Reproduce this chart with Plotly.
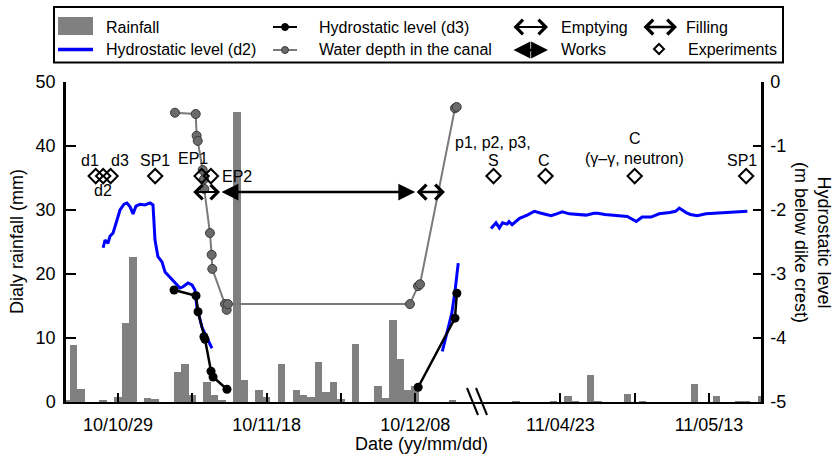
import plotly.graph_objects as go

# ---------------- data ----------------
# Daily rainfall (mm)
rain_dates_a = ["2010-10-22", "2010-10-23", "2010-10-24", "2010-10-27", "2010-10-29",
                "2010-10-30", "2010-10-31", "2010-11-02", "2010-11-03", "2010-11-06",
                "2010-11-07", "2010-11-08", "2010-11-10", "2010-11-11", "2010-11-12",
                "2010-11-14", "2010-11-15", "2010-11-17", "2010-11-18", "2010-11-20",
                "2010-11-22", "2010-11-23", "2010-11-24", "2010-11-25", "2010-11-26",
                "2010-11-27", "2010-11-28", "2010-11-30", "2010-12-03", "2010-12-04",
                "2010-12-05", "2010-12-06", "2010-12-07", "2010-12-08", "2010-12-13"]
rain_a = [0.3, 8.9, 2.0, 0.2, 0.8, 12.3, 22.7, 0.6, 0.4, 4.7,
          5.9, 1.1, 3.1, 1.1, 0.3, 45.3, 3.4, 1.8, 0.8, 5.9,
          1.8, 1.1, 0.8, 6.2, 1.6, 3.2, 0.5, 9.1, 2.5, 0.6,
          12.8, 6.7, 1.8, 2.5, 0.2]
rain_dates_b = ["2011-04-17", "2011-04-22", "2011-04-24", "2011-04-25", "2011-04-27",
                "2011-04-28", "2011-05-02", "2011-05-04", "2011-05-11", "2011-05-14",
                "2011-05-17", "2011-05-18", "2011-05-20"]
rain_b = [0.15, 0.15, 1.0, 0.15, 4.2, 0.15, 1.2, 0.15, 2.8, 1.0, 0.15, 0.15, 1.0]

# Hydrostatic level d2 (m below dike crest)
d2_dates_a = ["2010-10-27 00:00", "2010-10-27 06:00", "2010-10-27 15:30", "2010-10-27 22:00",
              "2010-10-28 08:00", "2010-10-28 17:30", "2010-10-29 06:30", "2010-10-29 19:30",
              "2010-10-30 05:00", "2010-10-30 15:00", "2010-10-31 00:30", "2010-10-31 10:00",
              "2010-10-31 23:00", "2010-11-01 15:00", "2010-11-02 07:30", "2010-11-02 17:00",
              "2010-11-02 23:30", "2010-11-03 09:00", "2010-11-03 22:00", "2010-11-04 08:00",
              "2010-11-05 00:00", "2010-11-05 16:00", "2010-11-06 08:00", "2010-11-06 18:00",
              "2010-11-07 10:00", "2010-11-07 23:00", "2010-11-08 08:30", "2010-11-08 15:00",
              "2010-11-09 07:00", "2010-11-09 23:30", "2010-11-10 15:30",
              None,
              "2010-12-11 15:30", "2010-12-12 06:00", "2010-12-12 22:00", "2010-12-13 08:30",
              "2010-12-13 14:00", "2010-12-13 19:00"]
d2_a = [-2.59, -2.47, -2.52, -2.41, -2.36, -2.19, -2.00, -1.91, -1.89, -1.95, -2.06,
        -1.94, -1.91, -1.92, -1.89, -1.92, -2.47, -2.73, -2.81, -2.97, -3.05, -3.14,
        -3.22, -3.20, -3.14, -3.17, -3.25, -3.52, -3.83, -4.00, -4.16,
        None,
        -4.21, -3.93, -3.62, -3.27, -3.02, -2.83]
d2_dates_b = ["2011-04-13 16:00", "2011-04-14 08:00", "2011-04-14 19:00", "2011-04-15 05:00",
              "2011-04-15 20:00", "2011-04-16 02:00", "2011-04-16 12:00", "2011-04-17 12:00",
              "2011-04-18 13:00", "2011-04-19 12:00", "2011-04-20 10:00", "2011-04-21 18:00",
              "2011-04-22 12:00", "2011-04-23 06:00", "2011-04-24 05:00", "2011-04-25 12:00",
              "2011-04-26 11:00", "2011-04-27 12:00", "2011-04-28 00:00", "2011-04-29 00:00",
              "2011-04-30 00:00", "2011-05-01 00:00", "2011-05-02 00:00", "2011-05-03 05:00",
              "2011-05-04 00:00", "2011-05-05 05:00", "2011-05-06 07:00", "2011-05-07 17:00",
              "2011-05-08 12:00", "2011-05-09 00:00", "2011-05-09 22:00", "2011-05-10 12:00",
              "2011-05-11 10:00", "2011-05-12 14:00", "2011-05-14 10:00", "2011-05-16 02:00",
              "2011-05-17 00:00", "2011-05-18 04:00"]
d2_b = [-2.29, -2.20, -2.28, -2.20, -2.22, -2.18, -2.23, -2.13, -2.08, -2.02, -2.05,
        -2.09, -2.06, -2.03, -2.06, -2.07, -2.08, -2.05, -2.05, -2.07, -2.08, -2.08,
        -2.10, -2.18, -2.11, -2.11, -2.06, -2.04, -2.02, -1.97, -2.04, -2.07, -2.09,
        -2.06, -2.05, -2.04, -2.03, -2.02]

# Hydrostatic level d3
d3_dates = ["2010-11-05 13:00", "2010-11-08 12:00", "2010-11-08 18:30", "2010-11-09 13:30",
            "2010-11-09 17:00", "2010-11-10 12:30", "2010-11-10 19:00", "2010-11-12 16:00",
            None,
            "2010-12-08 09:30", "2010-12-13 08:30", "2010-12-13 14:30"]
d3 = [-3.25, -3.34, -3.59, -3.98, -4.02, -4.52, -4.61, -4.80, None, -4.77, -3.69, -3.30]

# Water depth in the canal
canal_dates = ["2010-11-05 16:00", "2010-11-08 11:00", "2010-11-08 14:00", "2010-11-08 17:30",
               "2010-11-09 09:30", "2010-11-09 13:30", "2010-11-09 14:30", "2010-11-10 09:00",
               "2010-11-10 14:30", "2010-11-10 16:30", "2010-11-12 09:30", "2010-11-12 15:00",
               "2010-11-12 19:00", "2010-12-07 07:00", "2010-12-08 09:00", "2010-12-08 15:30",
               "2010-12-13 08:30", "2010-12-13 14:00"]
canal = [-0.48, -0.50, -0.84, -0.92, -1.375, -1.52, -1.67, -2.36, -2.70, -2.92,
         -3.47, -3.56, -3.47, -3.47, -3.19, -3.16, -0.41, -0.39]

# Experiments
exp_dates_a = ["2010-10-26", "2010-10-27", "2010-10-28", "2010-11-03",
               "2010-11-09 06:00", "2010-11-10 12:00"]
exp_dates_b = ["2011-04-14", "2011-04-21", "2011-05-03", "2011-05-18"]
EXP_LEVEL = -1.47

# Periods (arrows)
emptying = ("2010-11-07 22:00", "2010-11-11 17:30")
works = ("2010-11-11 17:30", "2010-12-08 00:00")
filling = ("2010-12-08 00:00", "2010-12-12 00:00")
ARROW_LEVEL = -1.72

left_ticks = ["2010-10-29", "2010-11-08", "2010-11-18", "2010-11-28", "2010-12-08"]
left_ticktext = ["10/10/29", "", "10/11/18", "", "10/12/08"]
right_ticks = ["2011-04-23", "2011-05-03", "2011-05-13"]
right_ticktext = ["11/04/23", "", "11/05/13"]
y2_ticks = [0, -1, -2, -3, -4, -5]
y2_ticktext = ["0", "-1", "-2", "-3", "-4", "-5"]

# ---------------- figure ----------------
FONT = "Arial, Liberation Sans, sans-serif"
W, H = 835, 457
L, R, T, B = 66, 761, 82, 402
DAY_MS = 86400000
split = 55 / 93.54


def px(x):
    return (x - L) / (R - L)


def py(y):
    return (B - y) / (B - T)


fig = go.Figure()

GRAY_BAR = "#808080"
fig.add_trace(go.Bar(x=rain_dates_a, y=rain_a, width=DAY_MS, marker_color=GRAY_BAR,
                     marker_line_width=0, xaxis="x", yaxis="y", showlegend=False))
fig.add_trace(go.Bar(x=rain_dates_b, y=rain_b, width=DAY_MS, marker_color=GRAY_BAR,
                     marker_line_width=0, xaxis="x2", yaxis="y", showlegend=False))

fig.add_trace(go.Scatter(x=d2_dates_a, y=d2_a, mode="lines", line=dict(color="#0000ff", width=3),
                         xaxis="x", yaxis="y2", showlegend=False, connectgaps=False))
fig.add_trace(go.Scatter(x=d2_dates_b, y=d2_b, mode="lines", line=dict(color="#0000ff", width=3),
                         xaxis="x2", yaxis="y2", showlegend=False))

fig.add_trace(go.Scatter(x=canal_dates, y=canal, mode="lines+markers",
                         line=dict(color="#7a7a7a", width=2),
                         marker=dict(size=9, color="#6b6b6b", line=dict(color="#3a3a3a", width=1)),
                         xaxis="x", yaxis="y2", showlegend=False))

fig.add_trace(go.Scatter(x=d3_dates, y=d3, mode="lines+markers",
                         line=dict(color="black", width=2.5),
                         marker=dict(size=9, color="black"),
                         xaxis="x", yaxis="y2", showlegend=False, connectgaps=False))

fig.add_trace(go.Scatter(x=exp_dates_a, y=[EXP_LEVEL] * len(exp_dates_a), mode="markers",
                         marker=dict(symbol="diamond-open", size=11, color="black",
                                     line=dict(width=2, color="black")),
                         xaxis="x", yaxis="y2", showlegend=False))
fig.add_trace(go.Scatter(x=exp_dates_b, y=[EXP_LEVEL] * len(exp_dates_b), mode="markers",
                         marker=dict(symbol="diamond-open", size=11, color="black",
                                     line=dict(width=2, color="black")),
                         xaxis="x2", yaxis="y2", showlegend=False))

annotations = []


def period_arrow(span, head, width, size):
    annotations.append(dict(x=span[1], y=ARROW_LEVEL, ax=span[0], ay=ARROW_LEVEL,
                            xref="x", yref="y2", axref="x", ayref="y2", text="",
                            showarrow=True, arrowside="end+start",
                            arrowhead=head, startarrowhead=head,
                            arrowsize=size, startarrowsize=size,
                            arrowwidth=width, arrowcolor="black",
                            standoff=0, startstandoff=0))


period_arrow(emptying, 4, 2, 1.4)
period_arrow(works, 2, 2.5, 1.35)
period_arrow(filling, 4, 2.5, 1.15)

LBL = dict(size=16, color="black", family=FONT)


def label(x, y, text, xref="x", xanchor="center"):
    annotations.append(dict(x=x, y=y, xref=xref, yref="y2", text=text, showarrow=False,
                            xanchor=xanchor, yanchor="middle", font=LBL))


label("2010-10-25 05:30", -1.22, "d1")
label("2010-10-29 06:30", -1.22, "d3")
label("2010-10-27 00:00", -1.70, "d2")
label("2010-11-03 00:00", -1.22, "SP1")
label("2010-11-08 02:00", -1.19, "EP1")
label("2010-11-11 17:00", -1.47, "EP2", xanchor="left")
label("2011-04-13 23:00", -0.95, "p1, p2, p3,", xref="x2")
label("2011-04-14 00:00", -1.22, "S", xref="x2")
label("2011-04-20 20:00", -1.22, "C", xref="x2")
label("2011-05-03 00:00", -0.875, "C", xref="x2")
label("2011-05-03 00:00", -1.19, "(γ–γ, neutron)", xref="x2")
label("2011-05-17 10:00", -1.22, "SP1", xref="x2")

TITLE = dict(size=18, color="black", family=FONT)
annotations.append(dict(x=px(17), y=py(242), xref="paper", yref="paper", text="Dialy rainfall (mm)",
                        textangle=-90, showarrow=False, font=TITLE,
                        xanchor="center", yanchor="middle"))
annotations.append(dict(x=px(813), y=py(242), xref="paper", yref="paper",
                        text="Hydrostatic level<br>(m below dike crest)",
                        textangle=90, showarrow=False, font=TITLE,
                        xanchor="center", yanchor="middle"))
annotations.append(dict(x=px(421), y=py(444), xref="paper", yref="paper", text="Date (yy/mm/dd)",
                        showarrow=False, font=TITLE, xanchor="center", yanchor="middle"))

# ----- legend (drawn manually) -----
LEG = dict(size=16, color="black", family=FONT)
shapes = []
shapes.append(dict(type="rect", xref="paper", yref="paper", x0=px(54), x1=px(783),
                   y0=py(62.5), y1=py(7), line=dict(color="black", width=2), fillcolor="white"))
shapes.append(dict(type="rect", xref="paper", yref="paper", x0=px(58), x1=px(93),
                   y0=py(35), y1=py(17), line=dict(width=0), fillcolor=GRAY_BAR))
shapes.append(dict(type="line", xref="paper", yref="paper", x0=px(58), x1=px(93),
                   y0=py(49.5), y1=py(49.5), line=dict(color="#0000ff", width=3.5)))
shapes.append(dict(type="line", xref="paper", yref="paper", x0=px(273), x1=px(297),
                   y0=py(27), y1=py(27), line=dict(color="black", width=2)))
shapes.append(dict(type="circle", xref="paper", yref="paper", x0=px(281.5), x1=px(288.5),
                   y0=py(30.5), y1=py(23.5), line=dict(color="black", width=1), fillcolor="black"))
shapes.append(dict(type="line", xref="paper", yref="paper", x0=px(273), x1=px(297),
                   y0=py(50), y1=py(50), line=dict(color="#7a7a7a", width=2)))
shapes.append(dict(type="circle", xref="paper", yref="paper", x0=px(281.5), x1=px(288.5),
                   y0=py(53.5), y1=py(46.5), line=dict(color="#3a3a3a", width=1), fillcolor="#6b6b6b"))
shapes.append(dict(type="path", xref="paper", yref="paper",
                   path=f"M{px(654)},{py(49)} L{px(659)},{py(44)} L{px(664)},{py(49)} "
                        f"L{px(659)},{py(54)} Z",
                   line=dict(color="black", width=2)))

# axis break marks
for x0 in (467, 476):
    shapes.append(dict(type="line", xref="paper", yref="paper", x0=px(x0), x1=px(x0 + 11),
                       y0=py(388), y1=py(415), line=dict(color="black", width=2)))


def leg_text(x, y, text):
    annotations.append(dict(x=px(x), y=py(y), xref="paper", yref="paper", text=text,
                            showarrow=False, xanchor="left", yanchor="middle", font=LEG))


leg_text(104, 27, "Rainfall")
leg_text(104, 50, "Hydrostatic level (d2)")
leg_text(317, 27, "Hydrostatic level (d3)")
leg_text(317, 50, "Water depth in the canal")
leg_text(559, 27, "Emptying")
leg_text(559, 50, "Works")
leg_text(684, 27, "Filling")
leg_text(686, 50, "Experiments")


def leg_arrow(x_head, y, length, head, width, size):
    annotations.append(dict(x=px(x_head), y=py(y), xref="paper", yref="paper",
                            ax=-length, ay=0, axref="pixel", ayref="pixel", text="",
                            showarrow=True, arrowside="end+start",
                            arrowhead=head, startarrowhead=head,
                            arrowsize=size, startarrowsize=size,
                            arrowwidth=width, arrowcolor="black",
                            standoff=0, startstandoff=0))


leg_arrow(548, 27, 36, 4, 2, 1.4)
leg_arrow(548, 50, 36, 2, 2.5, 1.35)
leg_arrow(677, 27, 35, 4, 2.5, 1.15)

TICK = dict(size=18, color="black", family=FONT)
common_x = dict(type="date", showgrid=False, zeroline=False, showline=True, linecolor="black",
                linewidth=2, ticks="inside", ticklen=9, tickwidth=2, tickcolor="black",
                tickfont=TICK, anchor="y", ticklabelstandoff=5)

fig.update_layout(
    width=W, height=H,
    margin=dict(l=L, r=W - R, t=T, b=H - B, pad=0),
    paper_bgcolor="white", plot_bgcolor="white",
    font=dict(family=FONT, color="black"),
    bargap=0,
    showlegend=False,
    xaxis=dict(domain=[0, split], range=["2010-10-22", "2010-12-16"],
               tickvals=left_ticks, ticktext=left_ticktext, **common_x),
    xaxis2=dict(domain=[split, 1], range=["2011-04-11 11:00", "2011-05-20 00:00"],
                tickvals=right_ticks, ticktext=right_ticktext, **common_x),
    yaxis=dict(range=[0, 50], tickvals=[0, 10, 20, 30, 40, 50], showgrid=False, zeroline=False,
               showline=True, linecolor="black", linewidth=2.5, ticks="inside", ticklen=10,
               tickwidth=2, tickcolor="black", tickfont=TICK, anchor="x", ticklabelstandoff=4),
    yaxis2=dict(range=[-5, 0], tickvals=y2_ticks, ticktext=y2_ticktext, overlaying="y",
                side="right", anchor="x2", showgrid=False, zeroline=False, showline=True,
                linecolor="black", linewidth=2.5, ticks="inside", ticklen=8, tickwidth=2,
                tickcolor="black", tickfont=TICK, ticklabelstandoff=3),
    annotations=annotations,
    shapes=shapes,
)

fig.write_html("out.html", config={"displayModeBar": False},
               post_script="document.body.style.margin='0px';")
